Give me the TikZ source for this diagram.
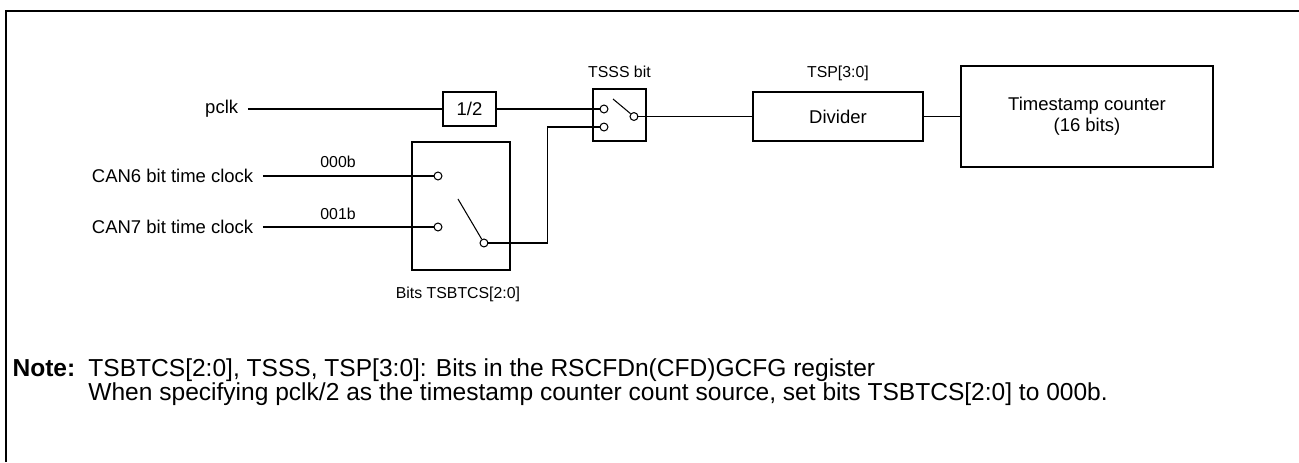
\documentclass[tikz,border=0pt]{standalone}
\usepackage{fontspec}
\setmainfont{Liberation Sans}
\usetikzlibrary{positioning}

\begin{document}
\begin{tikzpicture}[
  blk/.style={draw,line width=0.75pt,inner sep=0pt,align=center,font=\fontsize{7}{8}\selectfont},
  sig/.style={inner sep=3.5pt,font=\fontsize{7}{8}\selectfont},
  tag/.style={inner sep=0pt,font=\fontsize{6}{7}\selectfont},
  pin/.style={circle,draw,line width=0.4pt,fill=white,inner sep=0pt,minimum size=0.105cm},
  wire/.style={line width=0.4pt},
  note/.style={inner sep=0pt,font=\fontsize{9.3}{11}\selectfont}]
  \useasboundingbox (0,0) rectangle (17.294,-6.151);
  %% Frame
  \draw[line width=0.9pt] (0.08,-6.151) -- (0.08,-0.146) -- (17.294,-0.146);
  %% pclk path
  \node[sig,anchor=east] (pclk) at (3.30,-1.451) {pclk};
  \node[blk,minimum width=0.706cm,minimum height=0.453cm] (half) at (6.250,-1.451) {1/2};
  %% TSSS selector
  \node[blk,minimum width=0.706cm,minimum height=0.692cm] (tsss) at (8.247,-1.531) {};
  \node[tag] (tssslbl) at (8.247,-0.959) {TSSS bit};
  \node[pin] (tsssa) at (8.041,-1.451) {};
  \node[pin] (tsssb) at (8.041,-1.691) {};
  \node[pin] (tsssout) at (8.440,-1.551) {};
  \coordinate (tssslever) at (8.161,-1.318);
  %% Divider and counter
  \node[blk,minimum width=2.263cm,minimum height=0.652cm] (divider) at (11.156,-1.551) {Divider};
  \node[tag] (tsplbl) at (11.156,-0.972) {TSP[3:0]};
  \node[blk,minimum width=3.355cm,minimum height=1.345cm] (tscnt) at (14.471,-1.551)
        {Timestamp counter\\(16 bits)};
  %% TSBTCS selector
  \node[blk,minimum width=1.305cm,minimum height=1.704cm] (tsbtcs) at (6.137,-2.742) {};
  \node[tag] (tsbtcslbl) at (6.097,-3.914) {Bits TSBTCS[2:0]};
  \node[pin] (tsbtcsa) at (5.831,-2.343) {};
  \node[pin] (tsbtcsb) at (5.831,-3.022) {};
  \node[pin] (tsbtcsout) at (6.443,-3.235) {};
  \coordinate (tsbtcslever) at (6.097,-2.649);
  \coordinate (jog) at (7.295,-3.235);
  %% Clock inputs
  \node[sig,anchor=east] (can6) at (3.501,-2.343) {CAN6 bit time clock};
  \node[sig,anchor=east] (can7) at (3.501,-3.022) {CAN7 bit time clock};
  \node[tag] (sel0) at (4.50,-2.157) {000b};
  \node[tag] (sel1) at (4.50,-2.849) {001b};
  %% Wires
  \draw[wire] (pclk) -- (half);
  \draw[wire] (half) -- (tsssa);
  \draw[wire] (tssslever) -- (tsssout);
  \draw[wire] (tsssout) -- (divider);
  \draw[wire] (divider) -- (tscnt);
  \draw[wire] (can6) -- (tsbtcsa);
  \draw[wire] (can7) -- (tsbtcsb);
  \draw[wire] (tsbtcslever) -- (tsbtcsout);
  \draw[wire] (tsbtcsout) -- (jog) |- (tsssb);
  %% Note
  \node[note,font=\fontsize{9.3}{11}\selectfont\bfseries,anchor=base west] (notehd) at (0.16,-5.006) {Note:};
  \node[note,anchor=base west] (note1) at (1.17,-5.006)
        {TSBTCS[2:0], TSSS, TSP[3:0]: Bits in the RSCFDn(CFD)GCFG register};
  \node[note,anchor=base west] (note2) at (1.17,-5.338)
        {When specifying pclk/2 as the timestamp counter count source, set bits TSBTCS[2:0] to 000b.};
\end{tikzpicture}
\end{document}
